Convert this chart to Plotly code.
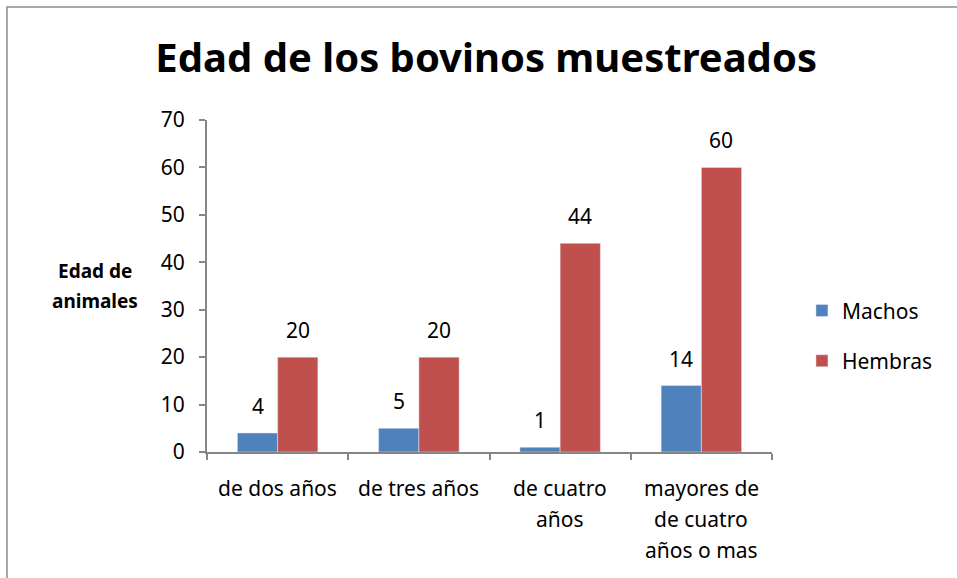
import plotly.graph_objects as go

# Age groups of sampled cattle and head counts per sex
categorias = ["de dos años", "de tres años", "de cuatro<br>años", "mayores de<br>de cuatro<br>años o mas"]
machos = [4, 5, 1, 14]
hembras = [20, 20, 44, 60]

FONT = "Noto Sans"
AXIS_GRAY = "#868686"
FS = 21

fig = go.Figure()
fig.add_trace(go.Bar(name="Machos", x=categorias, y=machos,
                     marker_color="#4F81BD", legendgroup="m"))
fig.add_trace(go.Bar(name="Hembras", x=categorias, y=hembras,
                     marker_color="#C0504D", legendgroup="h"))

# Value labels above each bar (bars sit half a bar width either side of the category centre)
for serie, vals, dx in [("m", machos, -20), ("h", hembras, 20)]:
    for cat, v in zip(categorias, vals):
        fig.add_annotation(x=cat, y=v, xref="x", yref="y", text=str(v),
                           showarrow=False, xshift=dx, yshift=27,
                           xanchor="center", yanchor="middle",
                           font=dict(family=FONT, size=FS, color="black"))

# Category labels, one line at a time for even line spacing
for cat in categorias:
    for i, linea in enumerate(cat.split("<br>")):
        fig.add_annotation(x=cat, y=0, xref="x", yref="paper", text=linea,
                           showarrow=False, yshift=-36 - 31 * i,
                           xanchor="center", yanchor="middle",
                           font=dict(family=FONT, size=FS, color="black"))

fig.update_layout(
    width=957, height=578,
    margin=dict(l=207, r=185, t=120, b=126),
    paper_bgcolor="white", plot_bgcolor="white",
    barmode="group", bargap=0.43, bargroupgap=0,
    font=dict(family=FONT, size=FS, color="black"),
    title=dict(text="<b>Edad de los bovinos muestreados</b>",
               font=dict(family=FONT, size=40, color="black"),
               x=0.508, xanchor="center", y=0.9, yanchor="middle"),
    legend=dict(x=1.053, y=0.35, xanchor="left", yanchor="middle",
                font=dict(family=FONT, size=FS), tracegroupgap=20,
                itemwidth=30),
    showlegend=True,
)

fig.update_xaxes(
    type="category", showline=True, linecolor=AXIS_GRAY, linewidth=2,
    ticks="outside", tickson="boundaries", ticklen=6, tickcolor=AXIS_GRAY,
    tickwidth=2, showgrid=False, showticklabels=False,
)
fig.update_yaxes(
    range=[0, 70], dtick=10, showline=True, linecolor=AXIS_GRAY, linewidth=2,
    ticks="outside", ticklen=6, tickcolor=AXIS_GRAY, tickwidth=2,
    showgrid=False, zeroline=False, ticklabelstandoff=10,
    tickfont=dict(family=FONT, size=FS),
)

# Axis title, set horizontally to the left of the value axis
for txt, ypos in [("<b>Edad de</b>", 0.545), ("<b>animales</b>", 0.455)]:
    fig.add_annotation(text=txt, xref="paper", yref="paper", x=-0.198, y=ypos,
                       showarrow=False, xanchor="center", yanchor="middle",
                       font=dict(family=FONT, size=19, color="black"))

# Chart frame
fig.add_shape(type="rect", xref="paper", yref="paper",
              x0=-0.354, x1=1.34, y0=-0.5, y1=1.340,
              line=dict(color="#8c8c8c", width=1.5), layer="below")

fig.write_html("out.html")
